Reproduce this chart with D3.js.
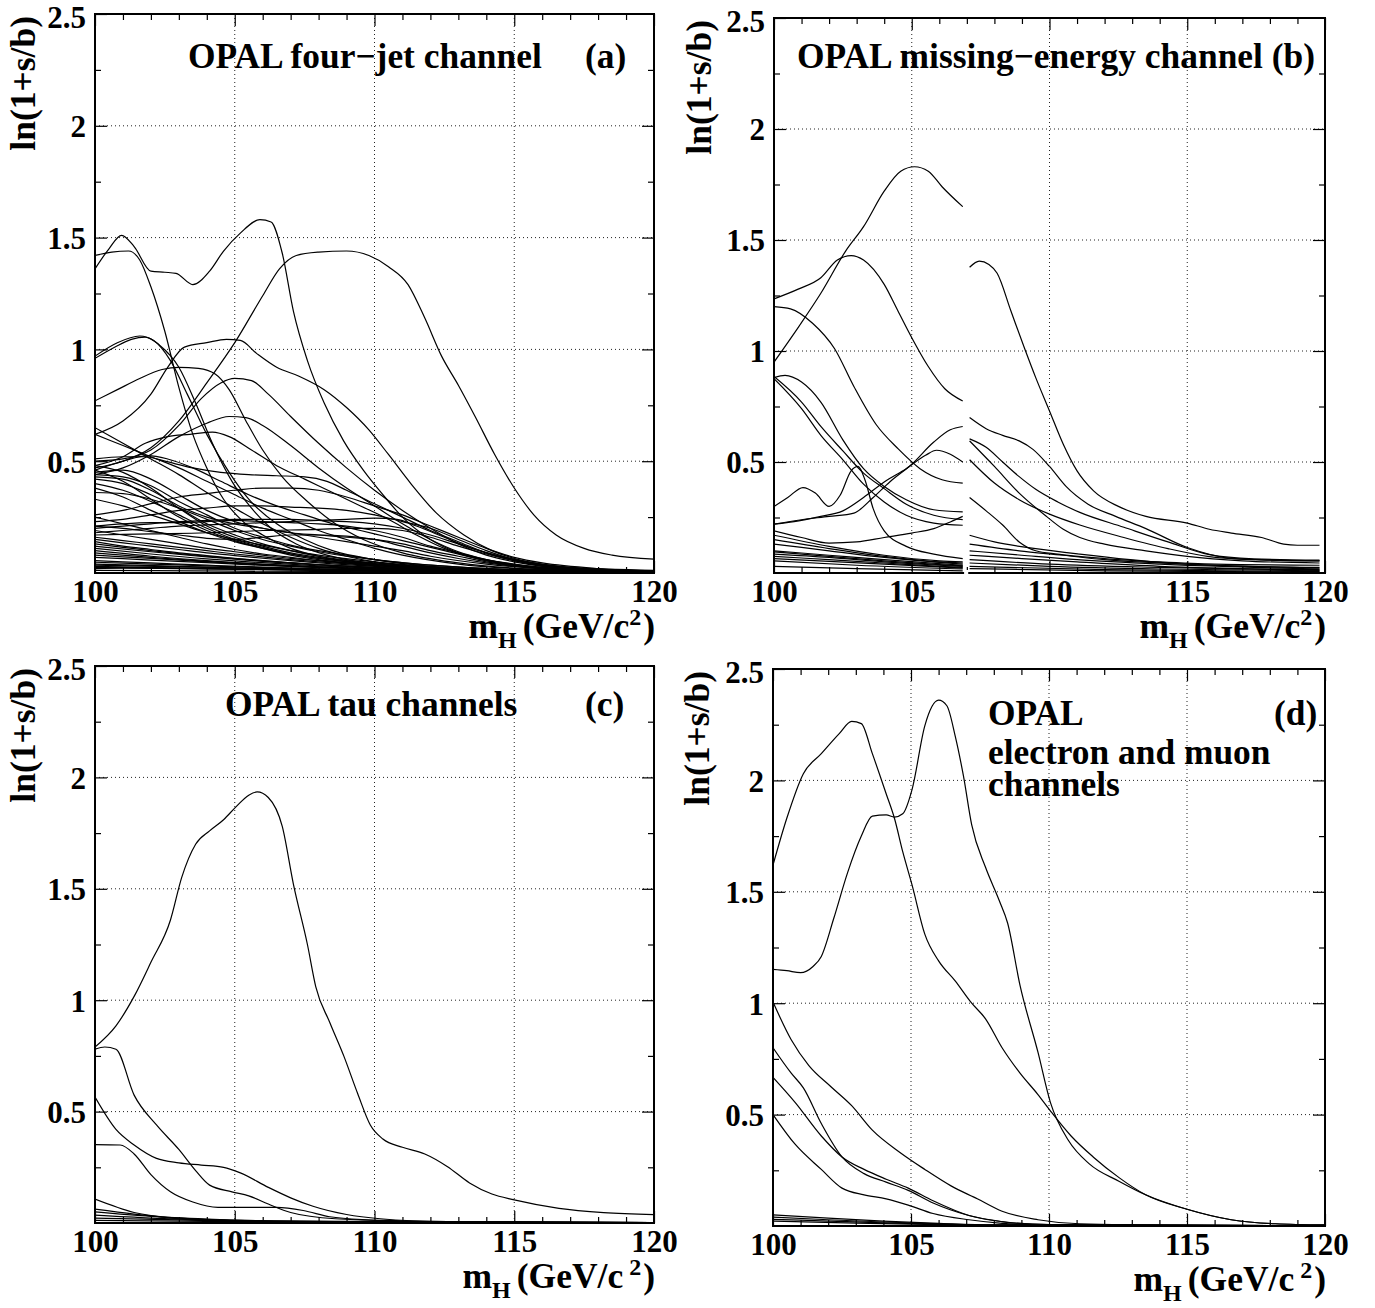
<!DOCTYPE html>
<html><head><meta charset="utf-8">
<script src="https://cdn.jsdelivr.net/npm/d3@7"></script>
<style>
body{margin:0;background:#fff}
svg{display:block}
text{font-family:"Liberation Serif","Times New Roman",serif;font-weight:bold;fill:#000}
</style>
</head><body>
<svg id="chart" width="1375" height="1308"></svg>
<script>
// ---------- axis / tick definitions ----------
const massDomain = [100, 120];
const valueDomain = [0, 2.5];
const xMajorTicks = [100, 105, 110, 115, 120];
const xMinorTicks = [101,102,103,104,106,107,108,109,111,112,113,114,116,117,118,119];
const xGridTicks = [105, 110, 115];
const yMajorTicks = [0.5, 1, 1.5, 2];
const yMinorTicks = [0.25, 0.75, 1.25, 1.75, 2.25];
const yTickLabels = [0.5, 1, 1.5, 2, 2.5];
const panelTitles = {
  a: ["OPAL four\u2212jet channel", "(a)"],
  b: ["OPAL missing\u2212energy channel (b)"],
  c: ["OPAL tau channels", "(c)"],
  d: ["OPAL", "electron and muon", "channels", "(d)"]
};

// ---------- (a) four-jet channel: [mH, ln(1+s/b)] ----------
const fourJetCurves = [
 [[100,1.36],[100.5,1.45],[100.95,1.51],[101.4,1.46],[102,1.35],[102.5,1.345],[102.9,1.34],[103.5,1.29],[104.1,1.35],[104.6,1.44],[105.2,1.52],[105.9,1.58],[106.3,1.57],[106.7,1.43],[107.1,1.17],[107.6,0.95],[108.2,0.76],[108.9,0.59],[109.6,0.46],[110.3,0.35],[111,0.25],[112,0.15],[113,0.09],[114,0.055],[115,0.035],[116,0.022],[118,0.012],[120,0.008]],
 [[100,1.42],[100.6,1.435],[101.2,1.44],[101.6,1.40],[102,1.28],[102.5,1.08],[103,0.83],[103.5,0.62],[104,0.47],[104.6,0.33],[105.3,0.23],[106,0.17],[107,0.11],[108,0.075],[109,0.05],[110,0.035],[112,0.018],[115,0.008],[120,0.004]],
 [[100,0.47],[101,0.50],[102,0.56],[103,0.68],[104,0.85],[105,1.03],[106,1.24],[106.6,1.36],[107.2,1.42],[108,1.435],[109,1.44],[109.8,1.42],[110.5,1.37],[111.2,1.29],[111.8,1.14],[112.4,0.97],[113,0.84],[113.6,0.70],[114.3,0.53],[115,0.38],[115.7,0.26],[116.5,0.17],[117.5,0.11],[118.5,0.08],[120,0.062]],
 [[100,0.96],[100.7,1.01],[101.3,1.045],[101.8,1.055],[102.3,1.02],[103,0.92],[103.6,0.76],[104.2,0.58],[104.9,0.41],[105.6,0.29],[106.3,0.2],[107.2,0.13],[108.3,0.08],[109.5,0.05],[111,0.03],[113,0.015],[116,0.006],[120,0.003]],
 [[100,0.97],[100.8,1.03],[101.6,1.06],[102.1,1.04],[102.7,0.95],[103.3,0.80],[104,0.62],[104.8,0.45],[105.5,0.33],[106.5,0.22],[107.5,0.15],[108.5,0.1],[110,0.06],[112,0.03],[115,0.012],[120,0.004]],
 [[100,0.62],[101,0.68],[102,0.80],[102.6,0.92],[103.2,1.01],[104,1.03],[104.7,1.045],[105.2,1.04],[105.8,0.98],[106.5,0.92],[107.3,0.88],[108.2,0.82],[109,0.74],[109.8,0.64],[110.5,0.53],[111.3,0.40],[112.2,0.27],[113.2,0.17],[114.2,0.1],[115.5,0.05],[117,0.025],[120,0.012]],
 [[100,0.77],[100.8,0.82],[101.6,0.87],[102.4,0.91],[103,0.92],[103.7,0.915],[104.3,0.89],[104.8,0.82],[105.4,0.68],[106,0.55],[106.7,0.43],[107.6,0.32],[108.6,0.22],[109.6,0.15],[111,0.09],[113,0.045],[116,0.015],[120,0.005]],
 [[100,0.50],[101,0.51],[102,0.55],[103,0.66],[103.8,0.78],[104.5,0.85],[105,0.87],[105.6,0.86],[106.2,0.80],[107,0.70],[108,0.58],[109,0.47],[110,0.37],[111,0.28],[112,0.2],[113,0.13],[114,0.08],[115,0.05],[117,0.02],[120,0.008]],
 [[100,0.44],[101,0.47],[102,0.53],[103,0.61],[104,0.67],[104.8,0.70],[105.4,0.695],[106,0.66],[107,0.57],[108,0.47],[109,0.38],[110,0.30],[111,0.22],[112,0.15],[113,0.095],[114,0.06],[115,0.035],[117,0.015],[120,0.006]],
 [[100,0.48],[101,0.52],[101.8,0.58],[102.6,0.61],[103.4,0.62],[104.2,0.63],[104.8,0.61],[105.6,0.55],[106.5,0.48],[107.5,0.42],[108.5,0.36],[109.5,0.30],[110.5,0.24],[111.5,0.17],[112.5,0.11],[114,0.055],[116,0.02],[120,0.005]],
 [[100,0.65],[101,0.58],[102,0.51],[103,0.44],[104,0.36],[105,0.29],[106,0.22],[107,0.16],[108,0.11],[109,0.075],[110,0.05],[112,0.025],[115,0.01],[120,0.003]],
 [[100,0.62],[101,0.57],[102,0.52],[103,0.47],[104,0.41],[105,0.35],[106,0.29],[107,0.24],[108,0.19],[109,0.15],[110,0.11],[111,0.08],[113,0.04],[116,0.015],[120,0.005]],
 [[100,0.51],[101,0.52],[101.8,0.52],[102.5,0.50],[103.5,0.47],[104.5,0.45],[105.5,0.44],[106.5,0.435],[107.5,0.43],[108.3,0.41],[109,0.37],[110,0.31],[111,0.25],[112,0.19],[113,0.14],[114,0.09],[115,0.055],[116,0.03],[118,0.012],[120,0.006]],
 [[100,0.46],[101,0.50],[101.9,0.525],[102.6,0.51],[103.5,0.47],[104.5,0.41],[105.5,0.35],[106.5,0.30],[107.5,0.26],[108.5,0.22],[109.5,0.19],[110.5,0.16],[111.5,0.13],[112.5,0.1],[113.5,0.07],[115,0.04],[117,0.015],[120,0.005]],
 [[100,0.26],[101,0.28],[102,0.31],[103,0.34],[104,0.355],[105,0.37],[106,0.38],[107,0.38],[108,0.37],[109,0.34],[110,0.30],[111,0.26],[112,0.21],[113,0.16],[114,0.11],[115,0.07],[116,0.045],[118,0.02],[120,0.01]],
 [[100,0.23],[101,0.24],[102,0.26],[103,0.28],[104,0.29],[105,0.30],[106,0.30],[107,0.295],[108,0.29],[109,0.28],[110,0.26],[111,0.23],[112,0.2],[113,0.15],[114,0.1],[115,0.06],[116,0.035],[118,0.015],[120,0.008]],
 [[100,0.20],[101,0.21],[102,0.22],[103,0.23],[104,0.235],[105,0.24],[106,0.24],[107,0.24],[108,0.235],[109,0.23],[110,0.22],[111,0.2],[112,0.17],[113,0.13],[114,0.09],[115,0.06],[116,0.035],[118,0.015],[120,0.007]],
 [[100,0.21],[101,0.22],[102,0.225],[103,0.225],[104,0.23],[105,0.235],[106,0.23],[107,0.225],[108,0.22],[109,0.21],[110,0.19],[111,0.16],[112,0.12],[113,0.09],[114,0.06],[116,0.025],[120,0.006]],
 [[100,0.18],[101,0.19],[102,0.2],[103,0.21],[104,0.215],[105,0.22],[106,0.225],[107,0.23],[108,0.235],[109,0.24],[110,0.245],[110.8,0.24],[111.5,0.21],[112.5,0.16],[113.5,0.11],[114.5,0.075],[116,0.04],[118,0.015],[120,0.006]],
 [[100,0.21],[101,0.2],[102,0.185],[103,0.17],[104,0.155],[105,0.15],[106,0.16],[107,0.17],[108,0.17],[109,0.165],[110,0.15],[111,0.12],[112,0.09],[113,0.065],[114,0.045],[116,0.02],[120,0.005]],
 [[100,0.17],[102,0.175],[104,0.18],[106,0.19],[108,0.195],[109,0.2],[110,0.2],[111,0.19],[112,0.16],[113,0.12],[114,0.085],[115,0.055],[117,0.02],[120,0.006]],
 [[100,0.48],[101,0.45],[102,0.38],[103,0.29],[104,0.21],[105,0.16],[106,0.12],[107,0.09],[108,0.07],[109,0.055],[110,0.04],[112,0.022],[115,0.01],[120,0.004]],
 [[100,0.46],[101,0.41],[102,0.33],[103,0.25],[104,0.19],[105,0.145],[106,0.11],[107,0.08],[108,0.06],[110,0.035],[113,0.015],[120,0.004]],
 [[100,0.44],[101,0.43],[102,0.39],[103,0.32],[104,0.26],[105,0.2],[106,0.16],[107,0.125],[108,0.1],[109,0.08],[110,0.06],[112,0.035],[115,0.015],[120,0.005]],
 [[100,0.42],[101,0.40],[102,0.35],[103,0.29],[104,0.22],[105,0.17],[106,0.13],[107,0.10],[108,0.075],[110,0.045],[113,0.02],[120,0.005]],
 [[100,0.40],[101,0.37],[102,0.32],[103,0.26],[104,0.2],[105,0.15],[106,0.115],[107,0.085],[108,0.065],[110,0.04],[113,0.017],[120,0.004]],
 [[100,0.38],[101,0.34],[102,0.28],[103,0.23],[104,0.18],[105,0.14],[106,0.11],[107,0.085],[108,0.065],[110,0.04],[113,0.018],[120,0.004]],
 [[100,0.36],[101,0.355],[102,0.33],[103,0.29],[104,0.24],[105,0.19],[106,0.15],[107,0.12],[108,0.095],[109,0.075],[110,0.06],[112,0.035],[115,0.015],[120,0.005]],
 [[100,0.45],[101,0.46],[102,0.42],[103,0.35],[104,0.28],[105,0.23],[106,0.2],[107,0.18],[108,0.16],[109,0.14],[110,0.12],[111,0.1],[112,0.075],[114,0.04],[116,0.02],[120,0.005]],
 [[100,0.43],[101,0.42],[102,0.37],[103,0.30],[104,0.25],[105,0.22],[106,0.2],[107,0.18],[108,0.17],[109,0.16],[110,0.15],[111,0.13],[112,0.1],[113,0.075],[114,0.05],[116,0.022],[120,0.006]],
 [[100,0.33],[101,0.30],[102,0.26],[103,0.22],[104,0.18],[105,0.15],[106,0.125],[107,0.1],[108,0.08],[110,0.05],[113,0.022],[120,0.005]],
 [[100,0.25],[101,0.22],[102,0.19],[103,0.16],[104,0.13],[105,0.105],[106,0.085],[107,0.07],[108,0.055],[110,0.035],[113,0.017],[120,0.004]],
 [[100,0.19],[101,0.17],[102,0.15],[103,0.13],[104,0.11],[105,0.095],[106,0.08],[107,0.065],[108,0.055],[110,0.035],[113,0.017],[120,0.004]],
 [[100,0.16],[101,0.145],[102,0.13],[103,0.115],[104,0.1],[105,0.085],[106,0.072],[107,0.06],[108,0.05],[110,0.033],[113,0.016],[120,0.004]],
 [[100,0.15],[101,0.135],[102,0.12],[103,0.105],[104,0.09],[105,0.078],[106,0.066],[107,0.055],[108,0.045],[110,0.03],[113,0.014],[120,0.004]],
 [[100,0.14],[101,0.12],[102,0.105],[103,0.09],[104,0.078],[105,0.066],[106,0.055],[107,0.046],[108,0.038],[110,0.025],[113,0.012],[120,0.003]],
 [[100,0.13],[101,0.115],[102,0.1],[103,0.087],[104,0.075],[105,0.064],[106,0.054],[107,0.045],[108,0.037],[110,0.025],[113,0.012],[120,0.003]],
 [[100,0.12],[102,0.095],[104,0.072],[106,0.052],[108,0.036],[110,0.024],[113,0.011],[120,0.003]],
 [[100,0.11],[102,0.085],[104,0.063],[106,0.046],[108,0.032],[110,0.022],[113,0.01],[120,0.003]],
 [[100,0.10],[102,0.075],[104,0.055],[106,0.04],[108,0.028],[110,0.019],[113,0.009],[120,0.002]],
 [[100,0.09],[102,0.07],[104,0.052],[106,0.038],[108,0.027],[110,0.018],[120,0.002]],
 [[100,0.08],[102,0.065],[104,0.05],[106,0.036],[108,0.025],[110,0.017],[120,0.002]],
 [[100,0.07],[102,0.058],[104,0.046],[106,0.034],[108,0.024],[110,0.016],[114,0.008],[120,0.003]],
 [[100,0.055],[102,0.045],[104,0.035],[106,0.026],[108,0.019],[110,0.013],[120,0.002]],
 [[100,0.048],[102,0.04],[104,0.032],[106,0.024],[108,0.017],[110,0.012],[120,0.002]],
 [[100,0.04],[103,0.03],[106,0.02],[110,0.01],[120,0.002]],
 [[100,0.035],[103,0.027],[106,0.02],[110,0.013],[115,0.007],[120,0.004]],
 [[100,0.03],[103,0.022],[106,0.016],[110,0.008],[120,0.002]],
 [[100,0.025],[104,0.02],[108,0.015],[112,0.01],[116,0.007],[120,0.005]],
 [[100,0.02],[101,0.022],[103,0.02],[106,0.015],[110,0.008],[120,0.002]],
 [[100,0.012],[105,0.008],[120,0.002]]
];

// ---------- (b) missing-energy channel, below and above the 107 GeV split ----------
const missingEnergyLeft = [
 [[100,0.95],[100.9,1.11],[101.7,1.26],[102.6,1.45],[103.25,1.56],[104,1.72],[104.6,1.81],[105.1,1.83],[105.6,1.81],[106.1,1.74],[106.85,1.65]],
 [[100,1.235],[100.9,1.28],[101.7,1.33],[102.3,1.41],[102.8,1.43],[103.25,1.41],[104,1.30],[104.5,1.18],[105,1.06],[105.6,0.93],[106.2,0.83],[106.85,0.775]],
 [[100,1.20],[100.6,1.19],[101.4,1.125],[102.2,1.01],[102.9,0.84],[103.7,0.67],[104.5,0.56],[105.3,0.47],[106.1,0.42],[106.85,0.405]],
 [[100,0.88],[100.4,0.89],[101,0.86],[101.7,0.77],[102.5,0.6],[103.25,0.47],[104,0.39],[104.8,0.33],[105.8,0.285],[106.85,0.275]],
 [[100,0.885],[101,0.77],[101.7,0.66],[102.5,0.55],[103.25,0.45],[104,0.38],[104.8,0.31],[105.8,0.26],[106.85,0.24]],
 [[100,0.875],[101,0.74],[101.7,0.62],[102.5,0.51],[103.25,0.40],[104,0.32],[104.8,0.26],[105.8,0.225],[106.85,0.215]],
 [[100,0.30],[100.5,0.34],[101.05,0.385],[101.5,0.36],[102,0.30],[102.4,0.35],[102.8,0.46],[103.05,0.48],[103.3,0.42],[103.6,0.29],[104,0.19],[104.8,0.12],[105.8,0.085],[106.85,0.065]],
 [[100,0.22],[100.9,0.235],[101.7,0.255],[102.5,0.28],[103.25,0.34],[104,0.41],[104.8,0.47],[105.5,0.53],[105.9,0.553],[106.4,0.535],[106.85,0.50]],
 [[100,0.22],[101,0.24],[102,0.255],[102.9,0.27],[103.6,0.34],[104.2,0.41],[105,0.49],[105.8,0.59],[106.4,0.645],[106.85,0.66]],
 [[100,0.19],[101,0.16],[102,0.135],[103,0.14],[104,0.16],[105,0.18],[105.8,0.2],[106.4,0.23],[106.85,0.255]],
 [[100,0.17],[102,0.12],[104,0.08],[106,0.055],[106.85,0.05]],
 [[100,0.15],[102,0.11],[104,0.075],[106,0.05],[106.85,0.045]],
 [[100,0.13],[102,0.1],[104,0.07],[106,0.048],[106.85,0.04]],
 [[100,0.10],[102,0.08],[104,0.06],[106,0.042],[106.85,0.035]],
 [[100,0.095],[102,0.075],[104,0.055],[106,0.038],[106.85,0.032]],
 [[100,0.085],[102,0.07],[104,0.05],[106,0.035],[106.85,0.03]],
 [[100,0.075],[102,0.06],[104,0.045],[106,0.03],[106.85,0.025]],
 [[100,0.065],[102,0.052],[104,0.04],[106,0.028],[106.85,0.022]],
 [[100,0.055],[103,0.035],[106.85,0.018]],
 [[100,0.03],[103,0.02],[106.85,0.01]]
];
const missingEnergyRight = [
 [[107.1,1.377],[107.45,1.405],[107.8,1.39],[108.1,1.35],[108.6,1.18],[109.1,1.01],[109.5,0.88],[110,0.73],[110.5,0.58],[111,0.46],[111.6,0.37],[112.5,0.30],[113.5,0.255],[115,0.225],[115.8,0.197],[116.6,0.18],[117.7,0.16],[118.5,0.13],[119,0.125],[119.8,0.125]],
 [[107.1,0.70],[107.7,0.65],[108.3,0.62],[108.9,0.595],[109.4,0.557],[110,0.48],[110.6,0.39],[111.4,0.31],[112.4,0.255],[113.5,0.20],[115,0.115],[116.6,0.066],[118,0.058],[119.8,0.055]],
 [[107.1,0.604],[107.7,0.566],[108.3,0.50],[108.9,0.434],[109.5,0.377],[110.3,0.32],[111.1,0.273],[112.7,0.206],[114.3,0.14],[115.8,0.083],[117.4,0.064],[119.8,0.058]],
 [[107.1,0.595],[108,0.48],[108.9,0.36],[109.9,0.254],[110.5,0.197],[111.1,0.16],[112,0.13],[113.5,0.1],[115,0.075],[117,0.055],[119.8,0.045]],
 [[107.1,0.51],[108,0.405],[108.9,0.33],[110,0.265],[111.1,0.216],[112.7,0.16],[114.3,0.11],[115.8,0.074],[117.5,0.06],[119.8,0.055]],
 [[107.1,0.34],[107.7,0.28],[108.3,0.216],[108.9,0.14],[109.5,0.10],[110.3,0.085],[112,0.065],[114,0.05],[116,0.04],[119.8,0.035]],
 [[107.1,0.17],[108,0.14],[109.5,0.11],[111.1,0.085],[114.3,0.045],[117,0.03],[119.8,0.025]],
 [[107.1,0.13],[108.9,0.10],[110.5,0.08],[112,0.06],[115,0.04],[119.8,0.022]],
 [[107.1,0.10],[109,0.08],[111,0.06],[114,0.04],[119.8,0.018]],
 [[107.1,0.08],[109,0.065],[111,0.05],[114,0.03],[119.8,0.015]],
 [[107.1,0.06],[110,0.04],[114,0.025],[119.8,0.012]],
 [[107.1,0.045],[110,0.03],[114,0.018],[119.8,0.01]],
 [[107.1,0.03],[112,0.015],[119.8,0.006]],
 [[107.1,0.02],[112,0.01],[119.8,0.004]]
];

// ---------- (c) tau channels ----------
const tauCurves = [
 [[100,0.79],[100.75,0.885],[101.4,1.017],[102,1.17],[102.7,1.36],[103.1,1.55],[103.6,1.70],[104.1,1.76],[104.6,1.81],[105.06,1.87],[105.5,1.92],[105.8,1.935],[106.2,1.91],[106.7,1.78],[107.1,1.52],[107.6,1.25],[107.9,1.06],[108.4,0.90],[108.9,0.75],[109.4,0.58],[109.85,0.44],[110.3,0.377],[111,0.34],[111.8,0.31],[112.6,0.254],[113.4,0.18],[114.2,0.13],[115,0.104],[116.6,0.066],[118.2,0.047],[120,0.038]],
 [[100,0.78],[100.35,0.79],[100.75,0.78],[101.4,0.574],[102.2,0.44],[103,0.33],[103.6,0.235],[104.1,0.17],[104.9,0.14],[105.5,0.122],[106.2,0.085],[107,0.047],[108.6,0.019],[111,0.01],[115,0.004],[120,0.002]],
 [[100,0.565],[100.75,0.42],[101.4,0.35],[102.2,0.29],[103,0.27],[103.8,0.26],[104.6,0.25],[105.2,0.225],[106.2,0.16],[107,0.113],[107.8,0.075],[109,0.038],[110.2,0.019],[112.6,0.006],[120,0.002]],
 [[100,0.352],[100.9,0.35],[101.4,0.31],[102,0.217],[102.7,0.14],[103.5,0.094],[104.4,0.07],[105.4,0.07],[106.5,0.07],[107.45,0.056],[108.4,0.028],[109.85,0.013],[112,0.005],[120,0.002]],
 [[100,0.107],[101.4,0.047],[103,0.019],[104.6,0.009],[108,0.004],[120,0.002]],
 [[100,0.062],[101.4,0.04],[103,0.022],[105,0.012],[108,0.006],[120,0.002]],
 [[100,0.05],[102,0.03],[104,0.018],[107,0.008],[120,0.002]],
 [[100,0.035],[102,0.022],[105,0.012],[110,0.004],[120,0.001]],
 [[100,0.022],[103,0.014],[107,0.006],[120,0.001]],
 [[100,0.012],[105,0.006],[120,0.001]]
];

// ---------- (d) electron and muon channels ----------
const leptonCurves = [
 [[100,1.62],[100.5,1.83],[101.1,2.03],[101.75,2.12],[102.4,2.21],[102.85,2.265],[103.2,2.255],[103.6,2.12],[104.1,1.94],[104.4,1.83],[104.7,1.68],[105.04,1.53],[105.5,1.31],[106,1.19],[106.6,1.10],[107.2,1.00],[107.7,0.93],[108.3,0.80],[108.95,0.686],[109.6,0.59],[110.05,0.517],[110.8,0.404],[111.6,0.31],[112.55,0.216],[113.5,0.14],[115,0.075],[116.6,0.028],[118.2,0.01],[120,0.005]],
 [[100,1.152],[100.5,1.146],[101,1.137],[101.45,1.165],[101.75,1.21],[102.2,1.38],[102.7,1.585],[103.2,1.75],[103.6,1.84],[104.1,1.845],[104.4,1.835],[104.7,1.85],[105.04,1.96],[105.5,2.245],[106,2.36],[106.3,2.335],[106.6,2.20],[106.9,2.02],[107.2,1.80],[107.7,1.61],[108.2,1.46],[108.5,1.36],[108.95,1.08],[109.6,0.78],[110.05,0.555],[110.7,0.385],[111.45,0.28],[112.55,0.2],[113.5,0.14],[115,0.075],[116.6,0.028],[118.2,0.01],[120,0.005]],
 [[100,1.005],[100.66,0.836],[101.3,0.72],[102.1,0.625],[102.85,0.54],[103.6,0.43],[104.6,0.33],[105.5,0.254],[106.45,0.18],[107.4,0.122],[108.3,0.066],[109.6,0.028],[111.1,0.01],[115,0.003],[120,0.001]],
 [[100,0.80],[100.66,0.686],[101.1,0.62],[101.75,0.46],[102.5,0.31],[103.3,0.235],[104.1,0.197],[104.9,0.16],[105.8,0.103],[107.1,0.047],[108.3,0.019],[110,0.006],[120,0.001]],
 [[100,0.667],[100.8,0.555],[101.75,0.404],[102.5,0.31],[103.3,0.254],[104.1,0.21],[104.9,0.17],[105.8,0.113],[107.1,0.047],[108.3,0.02],[110,0.006],[120,0.001]],
 [[100,0.5],[100.8,0.367],[101.75,0.254],[102.5,0.17],[103.3,0.14],[104.1,0.122],[104.9,0.094],[105.8,0.056],[107.1,0.028],[108.3,0.012],[110,0.004],[120,0.001]],
 [[100,0.05],[102,0.035],[104,0.022],[106,0.012],[108,0.005],[120,0.001]],
 [[100,0.04],[102,0.028],[104,0.018],[106,0.01],[108,0.004],[120,0.001]],
 [[100,0.03],[102,0.022],[104,0.014],[106,0.008],[108,0.003],[120,0.001]],
 [[100,0.022],[103,0.013],[106,0.006],[110,0.002],[120,0.001]]
];

// ---------- layout ----------
const panels = [
 {key:"a", left:95,  right:654,  top:14,  bottom:573,  curves:[fourJetCurves], ylabX:35,  gap:false, spaced:false},
 {key:"b", left:774, right:1325, top:18,  bottom:573,  curves:[missingEnergyLeft, missingEnergyRight], ylabX:711, gap:true, spaced:false},
 {key:"c", left:95,  right:654,  top:666, bottom:1223, curves:[tauCurves], ylabX:35,  gap:false, spaced:true},
 {key:"d", left:773, right:1325, top:669, bottom:1226, curves:[leptonCurves], ylabX:709, gap:false, spaced:true}
];

const svg = d3.select("#chart");
svg.append("rect").attr("width",1375).attr("height",1308).attr("fill","#fff");

const styleTicks = s => { s.select(".domain").remove(); s.selectAll("line").attr("stroke","#000").attr("stroke-width",1.2); };

panels.forEach(p => {
  const x = d3.scaleLinear().domain(massDomain).range([p.left, p.right]);
  const y = d3.scaleLinear().domain(valueDomain).range([p.bottom, p.top]);
  const g = svg.append("g");

  // dotted grid
  g.selectAll(".gx").data(xGridTicks).join("line")
    .attr("x1", d => x(d)).attr("x2", d => x(d)).attr("y1", p.top).attr("y2", p.bottom)
    .attr("stroke", "#222").attr("stroke-width", 1).attr("stroke-dasharray", "1,3");
  g.selectAll(".gy").data(yMajorTicks).join("line")
    .attr("y1", d => y(d)).attr("y2", d => y(d)).attr("x1", p.left).attr("x2", p.right)
    .attr("stroke", "#222").attr("stroke-width", 1).attr("stroke-dasharray", "1,3");

  // curves
  const clipId = "clip-" + p.key;
  g.append("clipPath").attr("id", clipId).append("rect")
    .attr("x", p.left).attr("y", p.top).attr("width", p.right - p.left).attr("height", p.bottom - p.top);
  const line = d3.line().x(d => x(d[0])).y(d => y(d[1])).curve(d3.curveMonotoneX);
  const cg = g.append("g").attr("clip-path", `url(#${clipId})`);
  p.curves.forEach(set => {
    cg.selectAll(null).data(set).join("path")
      .attr("d", line).attr("fill", "none").attr("stroke", "#000").attr("stroke-width", 1.2);
  });

  // axes with inward ticks on all four sides
  const gb = g.append("g").attr("transform", `translate(0,${p.bottom})`)
    .call(d3.axisBottom(x).tickValues(xMajorTicks).tickSize(-12).tickFormat(d3.format("d")));
  styleTicks(gb);
  gb.selectAll(".tick text").style("font-size", "31px").attr("dy", "0.71em").attr("y", 7);
  g.append("g").attr("transform", `translate(0,${p.bottom})`)
    .call(d3.axisBottom(x).tickValues(xMinorTicks).tickSize(-6).tickFormat("")).call(styleTicks);
  g.append("g").attr("transform", `translate(0,${p.top})`)
    .call(d3.axisTop(x).tickValues(xMajorTicks).tickSize(-12).tickFormat("")).call(styleTicks);
  g.append("g").attr("transform", `translate(0,${p.top})`)
    .call(d3.axisTop(x).tickValues(xMinorTicks).tickSize(-6).tickFormat("")).call(styleTicks);

  const gl = g.append("g").attr("transform", `translate(${p.left},0)`)
    .call(d3.axisLeft(y).tickValues(yTickLabels).tickSize(-12).tickFormat(d => String(d)));
  styleTicks(gl);
  gl.selectAll(".tick text").style("font-size","31px").attr("dy","0.35em").attr("x",-9)
    .attr("y", d => d === 2.5 ? 3 : 0);
  g.append("g").attr("transform", `translate(${p.left},0)`)
    .call(d3.axisLeft(y).tickValues(yMinorTicks).tickSize(-6).tickFormat("")).call(styleTicks);
  g.append("g").attr("transform", `translate(${p.right},0)`)
    .call(d3.axisRight(y).tickValues(yMajorTicks).tickSize(-12).tickFormat("")).call(styleTicks);
  g.append("g").attr("transform", `translate(${p.right},0)`)
    .call(d3.axisRight(y).tickValues(yMinorTicks).tickSize(-6).tickFormat("")).call(styleTicks);

  // frame
  g.append("rect").attr("x", p.left).attr("y", p.top)
    .attr("width", p.right - p.left).attr("height", p.bottom - p.top)
    .attr("fill", "none").attr("stroke", "#000").attr("stroke-width", 2);

  if (p.gap) {
    g.append("rect").attr("x", x(106.9)).attr("y", p.bottom - 3)
      .attr("width", x(107.05) - x(106.9)).attr("height", 5).attr("fill", "#fff");
  }

  // y-axis title
  g.append("text")
    .attr("transform", `translate(${p.ylabX},${p.top + 2}) rotate(-90)`)
    .attr("text-anchor", "end").style("font-size", "35.5px").text("ln(1+s/b)");

  // x-axis title
  const xt = g.append("text").attr("x", p.right + 1).attr("y", p.bottom + 65)
    .attr("text-anchor", "end").style("font-size", "35.5px");
  xt.append("tspan").text("m");
  xt.append("tspan").attr("dy", 10).style("font-size", "24px").text("H");
  xt.append("tspan").attr("dy", -10).attr("dx", 6).text("(GeV/c");
  xt.append("tspan").attr("dy", -13).attr("dx", p.spaced ? 6 : 0).style("font-size", "24px").text("2");
  xt.append("tspan").attr("dy", 13).attr("dx", 2).text(")");
});

// panel titles
const T = (x, y, s) => svg.append("text").attr("x", x).attr("y", y).style("font-size", "35.4px").text(s);
T(188, 68, panelTitles.a[0]);  T(585, 68, panelTitles.a[1]);
T(797, 68, panelTitles.b[0]);
T(225, 716, panelTitles.c[0]); T(585, 716, panelTitles.c[1]);
T(988, 725, panelTitles.d[0]); T(988, 764, panelTitles.d[1]); T(988, 796, panelTitles.d[2]);
T(1274, 725, panelTitles.d[3]);
</script>
</body></html>
